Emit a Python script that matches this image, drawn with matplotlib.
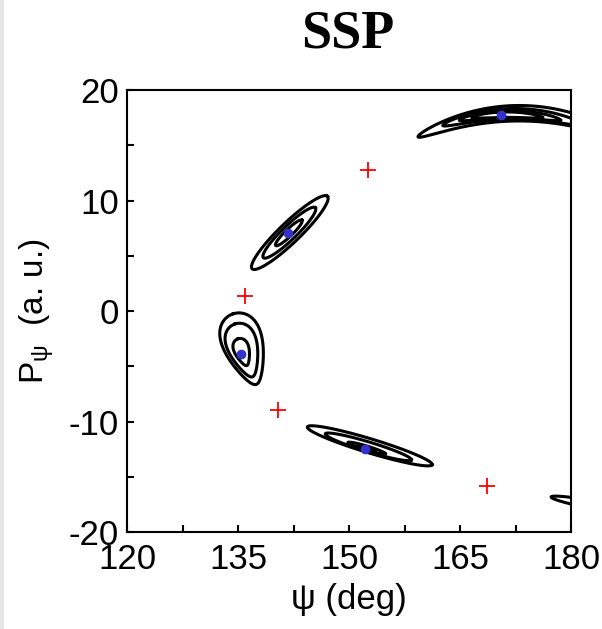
import numpy as np
import matplotlib
import matplotlib.pyplot as plt
from matplotlib.ticker import MultipleLocator
from matplotlib.patches import Rectangle

matplotlib.use("agg")
plt.rcParams["font.family"] = ["Liberation Sans", "DejaVu Sans"]
plt.rcParams["axes.unicode_minus"] = False

# stable fixed points (blue dots) and unstable ones (red crosses)
fixed_psi = [141.8, 135.4, 152.2, 170.5]
fixed_p = [7.06, -3.9, -12.5, 17.7]
saddle_psi = [152.6, 135.9, 140.4, 168.6]
saddle_p = [12.8, 1.4, -9.0, -15.8]

# islands around the fixed points: outer-ring centre, half length / half width
# (axes fraction), tilt (deg), egg-shape, bend, ring scales
isl_fix_psi = [141.8, 135.4, 152.2, 170.5, 183.5]
isl_fix_p = [7.06, -3.9, -12.5, 17.7, -17.6]
isl_psi = [142.0, 135.9, 152.8, 173.0, 183.5]
isl_p = [7.1, -3.45, -12.2, 17.9, -17.6]
isl_len = [0.118, 0.084, 0.147, 0.228, 0.105]
isl_wid = [0.023, 0.043, 0.016, 0.0175, 0.009]
isl_ang = [44.0, 108.0, -16.9, 0.0, -10.6]
isl_egg = [0.0, 0.4, 0.0, 0.0, 0.0]
isl_bend = [0.0, 0.0, 0.0, -1.02, 0.0]
isl_rings = [[1.0, 0.69, 0.35], [1.0, 0.75, 0.38], [1.0, 0.69, 0.3, 0.15],
             [1.0, 0.7, 0.5, 0.35], [1.0]]

fig = plt.figure(figsize=(6.02, 6.29), dpi=100)
ax = fig.add_axes([0.211, 0.1542, 0.7375, 0.7027])
ax.set_xlim(120, 180)
ax.set_ylim(-20, 20)

t = np.linspace(0, 2 * np.pi, 400)
for i in range(len(isl_psi)):
    fu, fv = ax.transLimits.transform((isl_fix_psi[i], isl_fix_p[i]))
    cu, cv = ax.transLimits.transform((isl_psi[i], isl_p[i]))
    a = np.radians(isl_ang[i])
    for s in isl_rings[i]:
        x = isl_len[i] * s * np.cos(t)
        y = isl_wid[i] * s * np.sin(t) * (1 + isl_egg[i] * np.cos(t))
        y = y + isl_bend[i] * x ** 2
        ou = fu + s * (cu - fu)
        ov = fv + s * (cv - fv)
        u = ou + x * np.cos(a) - y * np.sin(a)
        v = ov + x * np.sin(a) + y * np.cos(a)
        ax.plot(u, v, color="black", lw=2.2, transform=ax.transAxes)

ax.plot(fixed_psi, fixed_p, "o", color="#3333cc", ms=6, zorder=5)
ax.plot(saddle_psi, saddle_p, "+", color="red", ms=11, mew=1.3, zorder=5)

ax.set_xticks([120, 135, 150, 165, 180])
ax.set_yticks([-20, -10, 0, 10, 20])
ax.xaxis.set_minor_locator(MultipleLocator(7.5))
ax.yaxis.set_minor_locator(MultipleLocator(5))
ax.tick_params(which="both", direction="in", length=5, width=1.5,
               top=False, right=False, labelsize=25)
ax.tick_params(axis="x", pad=8)
ax.tick_params(axis="y", pad=6)
for sp in ax.spines.values():
    sp.set_linewidth(1.5)

ax.set_xlabel("ψ (deg)", fontsize=25, labelpad=5)
ax.set_ylabel("P$_\\mathregular{ψ}$  (a. u.)", fontsize=24, labelpad=9)

fig.text(0.577, 0.9237, "SSP", fontsize=39, fontweight="bold",
         family="Liberation Serif", ha="center", va="baseline")
fig.add_artist(Rectangle((0, 0), 4 / 602, 1, transform=fig.transFigure,
                         color="#e6e6e6", lw=0))

fig.savefig("out.png", dpi=100)
